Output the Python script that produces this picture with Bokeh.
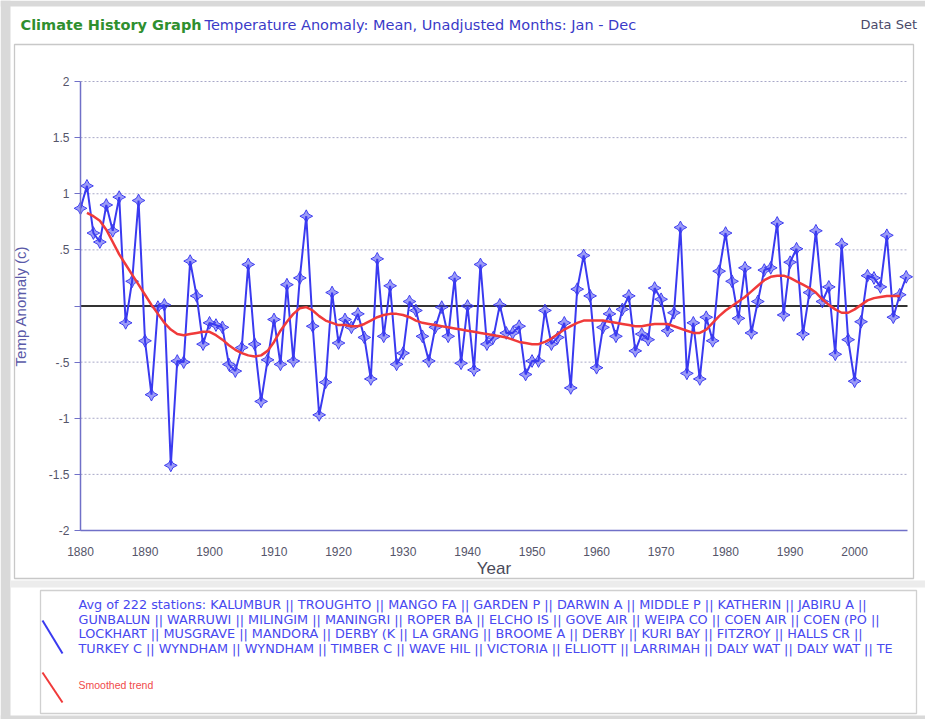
import numpy as np
from bokeh.plotting import figure
from bokeh.models import FixedTicker, Range1d
from bokeh.core.properties import value
from bokeh.embed import file_html
from bokeh.resources import INLINE

years = list(range(1880, 2009))
anomaly = [
    0.87, 1.07, 0.65, 0.57, 0.90, 0.67, 0.97, -0.15, 0.22, 0.94,
    -0.31, -0.79, -0.01, 0.01, -1.42, -0.49, -0.50, 0.40, 0.09, -0.34,
    -0.15, -0.17, -0.19, -0.52, -0.58, -0.37, 0.37, -0.34, -0.85, -0.48,
    -0.12, -0.52, 0.19, -0.49, 0.25, 0.80, -0.18, -0.97, -0.68, 0.12,
    -0.33, -0.12, -0.19, -0.07, -0.28, -0.65, 0.42, -0.27, 0.18, -0.52,
    -0.42, 0.04, -0.04, -0.27, -0.49, -0.19, -0.01, -0.27, 0.25, -0.51,
    0.00, -0.57, 0.37, -0.34, -0.28, 0.01, -0.24, -0.24, -0.18, -0.61,
    -0.49, -0.49, -0.04, -0.34, -0.28, -0.15, -0.73, 0.15, 0.45, 0.09,
    -0.55, -0.19, -0.07, -0.27, -0.03, 0.09, -0.40, -0.25, -0.30, 0.16,
    0.06, -0.22, -0.06, 0.70, -0.60, -0.15, -0.65, -0.10, -0.31, 0.31,
    0.65, 0.22, -0.11, 0.34, -0.24, 0.04, 0.32, 0.34, 0.74, -0.08,
    0.39, 0.51, -0.25, 0.12, 0.67, 0.04, 0.17, -0.43, 0.55, -0.30,
    -0.67, -0.14, 0.27, 0.25, 0.17, 0.63, -0.10, 0.10, 0.26,
]

trend_years = list(range(1881, 2008))
trend = [
    0.83, 0.80, 0.76, 0.68, 0.57, 0.46, 0.37, 0.28, 0.19,
    0.10, 0.01, -0.07, -0.15, -0.21, -0.25, -0.26, -0.25, -0.24, -0.23,
    -0.23, -0.26, -0.30, -0.35, -0.39, -0.42, -0.44, -0.45, -0.44, -0.40,
    -0.32, -0.22, -0.14, -0.07, -0.02, -0.01, -0.04, -0.09, -0.13, -0.15,
    -0.17, -0.17, -0.18, -0.18, -0.16, -0.13, -0.10, -0.08, -0.07, -0.07,
    -0.08, -0.10, -0.13, -0.15, -0.16, -0.17, -0.18, -0.19, -0.20, -0.21,
    -0.22, -0.23, -0.24, -0.25, -0.26, -0.27, -0.28, -0.30, -0.32, -0.33,
    -0.34, -0.34, -0.32, -0.29, -0.25, -0.21, -0.18, -0.15, -0.13, -0.13,
    -0.13, -0.13, -0.14, -0.15, -0.16, -0.17, -0.18, -0.18, -0.17, -0.16,
    -0.16, -0.16, -0.18, -0.20, -0.22, -0.24, -0.24, -0.21, -0.15, -0.09,
    -0.04, 0.00, 0.04, 0.08, 0.13, 0.18, 0.23, 0.26, 0.27, 0.27,
    0.25, 0.22, 0.19, 0.16, 0.12, 0.06, 0.01, -0.03, -0.06, -0.06,
    -0.03, 0.01, 0.05, 0.07, 0.08, 0.09, 0.09, 0.09,
]

x_ticks = [1880, 1890, 1900, 1910, 1920, 1930, 1940, 1950, 1960, 1970, 1980, 1990, 2000]
y_ticks = [-2, -1.5, -1, -0.5, 0, 0.5, 1, 1.5, 2]
y_tick_labels = {-2: "-2", -1.5: "-1.5", -1: "-1", -0.5: "-.5", 0: "", 0.5: ".5", 1: "1", 1.5: "1.5", 2: "2"}
x_min, x_max = 1880, 2008.2
y_min, y_max = -2, 2

title_left = "Climate History Graph"
title_main = "Temperature Anomaly: Mean, Unadjusted Months: Jan - Dec"
title_right = "Data Set"
legend_lines = [
    "Avg of 222 stations: KALUMBUR || TROUGHTO || MANGO FA || GARDEN P || DARWIN A || MIDDLE P || KATHERIN || JABIRU A ||",
    "GUNBALUN || WARRUWI || MILINGIM || MANINGRI || ROPER BA || ELCHO IS || GOVE AIR || WEIPA CO || COEN AIR || COEN (PO ||",
    "LOCKHART || MUSGRAVE || MANDORA || DERBY (K || LA GRANG || BROOME A || DERBY || KURI BAY || FITZROY || HALLS CR ||",
    "TURKEY C || WYNDHAM || WYNDHAM || TIMBER C || WAVE HIL || VICTORIA || ELLIOTT || LARRIMAH || DALY WAT || DALY WAT || TE",
]
trend_label = "Smoothed trend"

# ---- page geometry (pixels) ----
W, H = 925, 719
FL, FR, FT, FB = 80, 907, 81, 530      # where the data area sits on the page
BLUE = "#3a3af0"
RED = "#f03a3a"
CHROME = "#d9d9d9"
PANEL_LINE = "#c8c8c8"

# data ranges stretched so that the data area lands on FL..FR x FT..FB
kx = (FR - FL) / (x_max - x_min)
ky = (FB - FT) / (y_max - y_min)
xr = Range1d(x_min - FL / kx, x_max + (W - FR) / kx)
yr = Range1d(y_min - (H - FB) / ky, y_max + FT / ky)

p = figure(width=W, height=H, output_backend="svg", toolbar_location=None,
           x_range=xr, y_range=yr,
           min_border_left=0, min_border_right=0, min_border_top=0, min_border_bottom=0)
p.extra_x_ranges = {"px": Range1d(0, W)}
p.extra_y_ranges = {"px": Range1d(H, 0)}
p.background_fill_color = "white"
p.border_fill_color = "white"
p.outline_line_color = None
p.grid.visible = False

PX = dict(x_range_name="px", y_range_name="px")

# ---- window chrome and panels (page pixels) ----
p.quad(left=[0, 0, 0], right=[10, W, W], top=[0, 0, H - 4], bottom=[H, 6, H],
       fill_color=CHROME, line_color=None, **PX)
p.quad(left=[10], right=[W], top=[580], bottom=[587], fill_color="#ececec", line_color=None, **PX)
p.quad(left=[14], right=[913], top=[44], bottom=[578], fill_color=None, line_color=PANEL_LINE, line_width=1.3, **PX)
p.quad(left=[40], right=[916], top=[590], bottom=[713], fill_color=None, line_color="#d0d0d0", line_width=1.3, **PX)

# ---- horizontal grid (dotted) and zero line ----
grid_vals = [t for t in y_ticks if t != 0]
p.segment(x0=[x_min] * len(grid_vals), y0=grid_vals, x1=[x_max] * len(grid_vals), y1=grid_vals,
          line_color="#a8a8c8", line_dash="2 2", line_width=1)
p.segment(x0=[x_min], y0=[0], x1=[x_max], y1=[0], line_color="#333333", line_width=2)

# ---- axes drawn at the data area's edges ----
p.xaxis.fixed_location = y_min
p.yaxis.fixed_location = x_min
p.xaxis.bounds = (x_min, x_max)
p.yaxis.bounds = (y_min, y_max)
p.xaxis.ticker = FixedTicker(ticks=x_ticks)
p.yaxis.ticker = FixedTicker(ticks=y_ticks)
p.yaxis.major_label_overrides = y_tick_labels
for ax in (p.xaxis[0], p.yaxis[0]):
    ax.axis_line_color = "#7070c8"
    ax.axis_line_width = 1.5
    ax.major_tick_line_color = "#7070c8"
    ax.major_tick_out = 6
    ax.major_tick_in = 0
    ax.minor_tick_line_color = None
    ax.major_label_text_color = "#55556a"
    ax.major_label_text_font = "Liberation Sans"
    ax.major_label_text_font_size = "12px"
    ax.axis_label_text_font = "Liberation Sans"
    ax.axis_label_text_font_style = "normal"
p.xaxis.major_tick_line_color = None
p.xaxis.major_label_standoff = 10
p.xaxis.axis_label = "Year"
p.xaxis.axis_label_text_font_size = "17px"
p.xaxis.axis_label_text_color = "#4a4a5a"
p.xaxis.axis_label_standoff = 0
p.yaxis.axis_label = "Temp Anomaly (c)"
p.yaxis.axis_label_text_font_size = "15px"
p.yaxis.axis_label_text_color = "#5a5aa8"
p.yaxis.axis_label_standoff = 17

# ---- data ----
p.line(years, anomaly, line_color=BLUE, line_width=2)
p.scatter(years, anomaly, marker="square_pin", size=9, angle=np.pi / 4,
          fill_color=BLUE, fill_alpha=0.5, line_color=BLUE, line_width=1)
p.line(trend_years, trend, line_color=RED, line_width=2.5)

# ---- title bar ----
p.text(x=[20], y=[24], text=[title_left], text_color="#2f8f2f", text_font=value("DejaVu Sans"),
       text_font_size=value("14.5px"), text_font_style="bold", text_baseline="middle", **PX)
p.text(x=[204], y=[24], text=[title_main], text_color="#3a3ac8", text_font=value("DejaVu Sans"),
       text_font_size=value("14.5px"), text_baseline="middle", **PX)
p.text(x=[860], y=[24], text=[title_right], text_color="#4a4a6a", text_font=value("DejaVu Sans"),
       text_font_size=value("13px"), text_baseline="middle", **PX)

# ---- legend ----
p.segment(x0=[42], y0=[620], x1=[62], y1=[653], line_color=BLUE, line_width=2, **PX)
p.segment(x0=[42], y0=[672], x1=[62], y1=[702], line_color=RED, line_width=2, **PX)
p.text(x=[78] * len(legend_lines), y=[604 + i * 14.5 for i in range(len(legend_lines))], text=legend_lines,
       text_color="#4848f0", text_font=value("DejaVu Sans"), text_font_size=value("12.8px"),
       text_baseline="middle", **PX)
p.text(x=[78], y=[684], text=[trend_label], text_color="#f04a4a", text_font=value("Liberation Sans"),
       text_font_size=value("10.5px"), text_baseline="middle", **PX)

open("out.html", "w").write(file_html(p, INLINE))
